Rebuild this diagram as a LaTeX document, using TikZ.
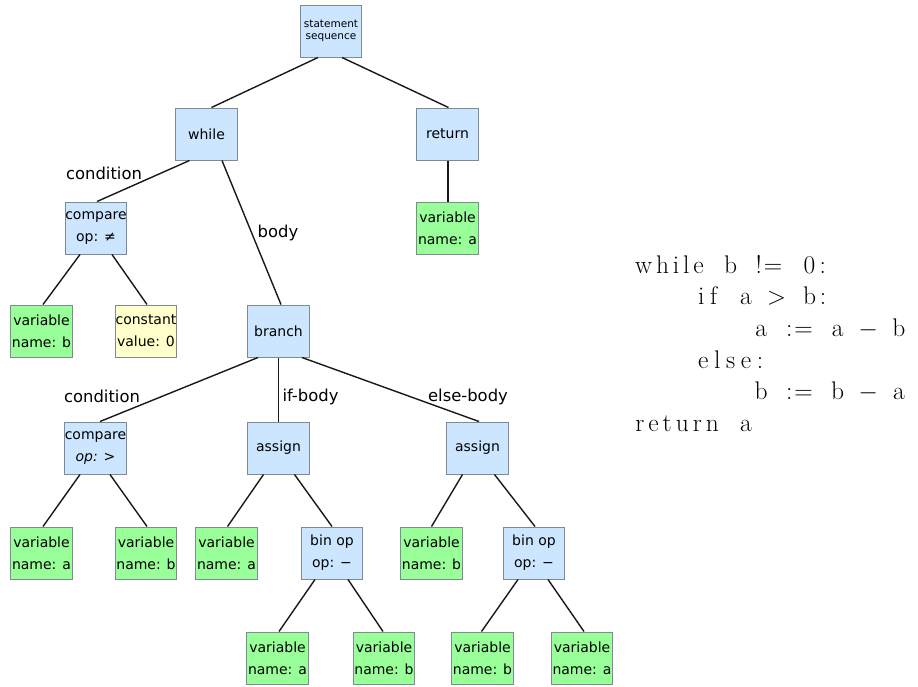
\documentclass[tikz,border=0pt]{standalone}
\usepackage{fontspec}
\newfontfamily\dvs{DejaVu Sans}
\definecolor{bluec}{RGB}{204,230,255}
\definecolor{greenc}{RGB}{153,255,153}
\definecolor{yellowc}{RGB}{255,255,204}
\definecolor{bordc}{RGB}{128,138,148}
\newlength\cw
\setlength\cw{15.3pt}
\makeatletter
\newcommand\codeunit[1]{\count@=0\relax\@tfor\x:=#1\do{\advance\count@\@ne}\hbox to \count@\cw{\hss\@tfor\x:=#1\do{\x\hss}}}
\makeatother
\newcommand\codesp[1]{\hspace*{#1\cw}}
\tikzset{
  box/.style={draw=bordc, line width=1pt, minimum width=61.5pt, minimum height=52pt, inner sep=0pt, align=center, font=\dvs\fontsize{14}{22}\selectfont},
  blk/.style={box, fill=bluec},
  grn/.style={box, fill=greenc},
  ylw/.style={box, fill=yellowc},
  edge/.style={line width=1.4pt, draw=black!90},
  lbl/.style={anchor=base, inner sep=0pt, font=\dvs\fontsize{16.4}{20}\selectfont},
  codeline/.style={anchor=base west, inner sep=0pt, font=\fontsize{25.5}{31.7}\selectfont}
}
\begin{document}
\begin{tikzpicture}[x=1pt,y=-1pt]
\useasboundingbox (0,0) rectangle (918,686);
% nodes
\node[blk, font=\dvs\fontsize{10.5}{12.5}\selectfont] (stmt) at (331,31) {statement\\sequence};
\node[blk] (while) at (206.5,134) {while};
\node[blk] (ret) at (447.5,134) {return};
\node[blk] (cmp1) at (96,228) {compare\\op: ≠};
\node[grn] (reta) at (447.5,228) {variable\\name: a};
\node[grn] (vb1) at (41.5,331) {variable\\name: b};
\node[ylw] (const) at (146,331) {constant\\value: 0};
\node[blk] (branch) at (278.5,331) {branch};
\node[blk] (cmp2) at (95.5,448) {compare\\\textit{op: >}};
\node[blk] (as1) at (278.5,448) {assign};
\node[blk] (as2) at (477.5,448) {assign};
\node[grn] (va2) at (41.5,553) {variable\\name: a};
\node[grn] (vb2) at (146,553) {variable\\name: b};
\node[grn] (va3) at (226.5,553) {variable\\name: a};
\node[blk] (bo1) at (332,553) {bin op\\op: −};
\node[grn] (vb3) at (431.5,553) {variable\\name: b};
\node[blk] (bo2) at (534,553) {bin op\\op: −};
\node[grn] (va4) at (277.5,658) {variable\\name: a};
\node[grn] (vb4) at (384,658) {variable\\name: b};
\node[grn] (vb5) at (482.5,658) {variable\\name: b};
\node[grn] (va5) at (582,658) {variable\\name: a};
% edges
\draw[edge] ([xshift=-13pt]stmt.south) -- ([xshift=5pt]while.north);
\draw[edge] ([xshift=11pt]stmt.south) -- ([xshift=1pt]ret.north);
\draw[edge] ([xshift=-17pt]while.south) -- ([xshift=1pt]cmp1.north);
\draw[edge] ([xshift=15.5pt]while.south) -- ([xshift=2.5pt]branch.north);
\draw[edge] ([xshift=0.5pt]ret.south) -- ([xshift=0.5pt]reta.north);
\draw[edge] ([xshift=-16pt]cmp1.south) -- ([xshift=1.5pt]vb1.north);
\draw[edge] ([xshift=16pt]cmp1.south) -- ([xshift=1pt]const.north);
\draw[edge] ([xshift=-20.5pt]branch.south) -- ([xshift=4.5pt]cmp2.north);
\draw[edge] (branch.south) -- (as1.north);
\draw[edge] ([xshift=23.5pt]branch.south) -- ([xshift=1.5pt]as2.north);
\draw[edge] ([xshift=-15.5pt]cmp2.south) -- ([xshift=1.5pt]va2.north);
\draw[edge] ([xshift=14.5pt]cmp2.south) -- ([xshift=1pt]vb2.north);
\draw[edge] ([xshift=-15pt]as1.south) -- ([xshift=1pt]va3.north);
\draw[edge] ([xshift=16pt]as1.south) -- ([xshift=0pt]bo1.north);
\draw[edge] ([xshift=-15pt]as2.south) -- ([xshift=0pt]vb3.north);
\draw[edge] ([xshift=17pt]as2.south) -- ([xshift=1pt]bo2.north);
\draw[edge] ([xshift=-17pt]bo1.south) -- ([xshift=1.5pt]va4.north);
\draw[edge] ([xshift=16pt]bo1.south) -- ([xshift=-1pt]vb4.north);
\draw[edge] ([xshift=-16pt]bo2.south) -- ([xshift=-1pt]vb5.north);
\draw[edge] ([xshift=14pt]bo2.south) -- ([xshift=2pt]va5.north);
% labels
\node[lbl] (lc1) at (104,179) {condition};
\node[lbl] (lbody) at (278,237) {body};
\node[lbl] (lc2) at (102,402) {condition};
\node[lbl] (lif) at (310.5,401.5) {if-body};
\node[lbl] (lelse) at (468,401.5) {else-body};
% code
\node[codeline] (c1) at (631,273) {\codeunit{while}\codesp{1}\codeunit{b}\codesp{1}\codeunit{!=}\codesp{1}\codeunit{0:}};
\node[codeline] (c2) at (631,304.7) {\codesp{4}\codeunit{if}\codesp{1}\codeunit{a}\codesp{1}\codeunit{{$>$}}\codesp{1}\codeunit{b:}};
\node[codeline] (c3) at (631,336.4) {\codesp{8}\codeunit{a}\codesp{1}\codeunit{:=}\codesp{1}\codeunit{a}\codesp{1}\codeunit{{$-$}}\codesp{1}\codeunit{b}};
\node[codeline] (c4) at (631,368.1) {\codesp{4}\codeunit{else:}};
\node[codeline] (c5) at (631,399.8) {\codesp{8}\codeunit{b}\codesp{1}\codeunit{:=}\codesp{1}\codeunit{b}\codesp{1}\codeunit{{$-$}}\codesp{1}\codeunit{a}};
\node[codeline] (c6) at (631,431.5) {\codeunit{return}\codesp{1}\codeunit{a}};
\end{tikzpicture}
\end{document}
